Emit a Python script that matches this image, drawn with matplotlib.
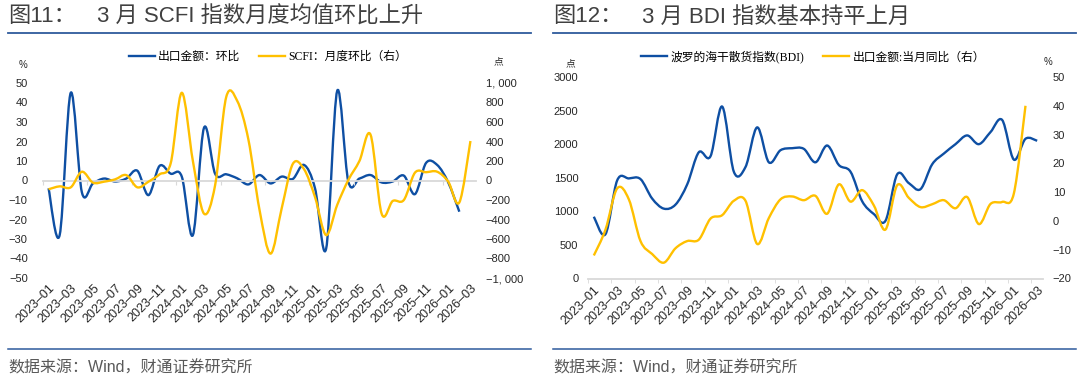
import matplotlib
matplotlib.use('Agg')
import matplotlib.pyplot as plt
import numpy as np
from matplotlib.path import Path
from matplotlib.patches import PathPatch
from matplotlib.lines import Line2D

plt.rcParams['font.family'] = ['Liberation Sans', 'Noto Sans CJK SC']
plt.rcParams['axes.unicode_minus'] = True

# Month categories 2023-01 .. 2026-03
months = [f'{y}-{m:02d}' for y in range(2023, 2027) for m in range(1, 13)][:39]

# Left chart: export value m/m (%) and SCFI monthly change (points, right axis)
export_mom = [-4, -28, 45, -6, -1.5, 1, -0.5, 1, 5, -7.5,
              7.5, 3.5, 2, -28, 27, 3.5, 3.2, 1.1, -2, 2.8,
              -1.5, 2, 0.8, 8, -4, -35, 46, -0.5, 1, 2.8,
              -1, -0.5, 2.5, -7, 9, 8, -1, -16]
scfi_mom = [-90, -60, -70, 90, -22, -12, 12, 55, -70, -12,
            63, 176, 900, 200, -340, -50, 855, 815, 420, -300,
            -750, -285, 170, 118, -170, -560, -250, 5, 200, 470,
            -340, -210, -200, 80, 85, 90, -12, -225, 405]

# Right chart: BDI (points) and export value y/y (%, right axis)
bdi = [920, 660, 1460, 1490, 1480, 1190, 1040, 1100, 1400, 1880,
       1820, 2560, 1590, 1660, 2250, 1730, 1910, 1940, 1930, 1730,
       1980, 1690, 1590, 1150, 960, 860, 1550, 1420, 1330, 1700,
       1860, 2000, 2130, 2000, 2180, 2360, 1770, 2080, 2050]
export_yoy = [-12, -3, 11.3, 7.5, -7, -11.5, -14.5, -9.5, -7, -6.5,
              0.8, 2, 7, 7, -8, 1, 7.5, 8.5, 7.2, 8.7,
              2.5, 12.7, 6.7, 10.7, 5.4, -3, 12.4, 8, 4.8, 5.8,
              7.2, 4.4, 8.3, -1.1, 5.9, 6.6, 9.5, 40]

BLUE = '#0E4FA3'
GOLD = '#FFC000'
GRAY_AX = '#D9D9D9'
TXT = '#262626'
W, H = 1080, 381


def fx(px):
    return px / W


def fy(py):
    return 1 - py / H


def smooth_path(xs, ys):
    # Excel-like smoothed line (Catmull-Rom as cubic Bezier)
    pts = np.column_stack([xs, ys]).astype(float)
    n = len(pts)
    verts = [pts[0]]
    codes = [Path.MOVETO]
    for i in range(n - 1):
        p0 = pts[i - 1] if i > 0 else pts[i]
        p1, p2 = pts[i], pts[i + 1]
        p3 = pts[i + 2] if i + 2 < n else pts[i + 1]
        verts += [p1 + (p2 - p0) / 6, p2 - (p3 - p1) / 6, p2]
        codes += [Path.CURVE4] * 3
    return Path(verts, codes)


def add_line(ax, values, color):
    x = np.arange(len(values))
    ax.add_patch(PathPatch(smooth_path(x, values), fill=False, edgecolor=color,
                           lw=1.7, joinstyle='round', capstyle='butt'))


def thousands(v):
    s = f'{abs(int(v)):,}'.replace(',', ', ')
    return ('\u2212' + s) if v < 0 else s


xlabels = [m.replace('-', '\u2013') for m in months[::2]]
XLAB_SIZE = 9

fig = plt.figure(figsize=(10.8, 3.81), dpi=100)

# ---------------- left chart ----------------
ax1 = fig.add_axes([fx(43), fy(278), fx(476 - 43), (278 - 83) / H])
ax1r = ax1.twinx()
ax1.set_xlim(-0.5, 38.5)
ax1.set_ylim(-50, 50)
ax1r.set_ylim(-1000, 1000)
add_line(ax1, export_mom, BLUE)
add_line(ax1r, scfi_mom, GOLD)

for a in (ax1, ax1r):
    for s in ('left', 'right', 'top'):
        a.spines[s].set_visible(False)
ax1r.spines['bottom'].set_visible(False)
ax1.spines['bottom'].set_position(('data', 0))
ax1.spines['bottom'].set_color(GRAY_AX)
ax1.spines['bottom'].set_linewidth(1.3)
ax1.set_xticks(np.arange(-0.5, 39, 4))
ax1.tick_params(axis='x', length=3, color=GRAY_AX, labelbottom=False)
sec = ax1.secondary_xaxis('bottom')
sec.set_xticks(range(0, 39, 2), xlabels)
sec.spines['bottom'].set_visible(False)
sec.tick_params(length=0, pad=3, labelsize=XLAB_SIZE, labelcolor=TXT)
for lab in sec.get_xticklabels():
    lab.set_rotation(45)
    lab.set_ha('right')
    lab.set_rotation_mode('anchor')

ax1.set_yticks(range(-50, 51, 10))
ax1.tick_params(axis='y', length=0, pad=11, labelsize=8, labelcolor=TXT)
ax1r.set_yticks(range(-1000, 1001, 200))
ax1r.set_yticklabels([thousands(v) for v in range(-1000, 1001, 200)])
ax1r.tick_params(axis='y', length=0, pad=7, labelsize=8, labelcolor=TXT)

# ---------------- right chart ----------------
ax2 = fig.add_axes([fx(588), fy(278.5), fx(1043 - 588), (278.5 - 77) / H])
ax2r = ax2.twinx()
ax2.set_xlim(-0.5, 38.5)
ax2.set_ylim(0, 3000)
ax2r.set_ylim(-20, 50)
add_line(ax2, bdi, BLUE)
add_line(ax2r, export_yoy, GOLD)

for a in (ax2, ax2r):
    for s in ('left', 'right', 'top'):
        a.spines[s].set_visible(False)
ax2r.spines['bottom'].set_visible(False)
ax2.spines['bottom'].set_color(GRAY_AX)
ax2.spines['bottom'].set_linewidth(1.3)
ax2.set_xticks(range(0, 39, 2), xlabels, rotation=45, ha='right',
               rotation_mode='anchor')
ax2.set_xticks(np.arange(-0.5, 39, 2), minor=True)
ax2.tick_params(axis='x', which='major', length=0, pad=4, labelsize=XLAB_SIZE,
                labelcolor=TXT)
ax2.tick_params(axis='x', which='minor', length=3, color=GRAY_AX)
ax2.set_yticks(range(0, 3001, 500))
ax2.tick_params(axis='y', length=0, pad=7, labelsize=8, labelcolor=TXT)
ax2r.set_yticks(range(-20, 51, 10))
ax2r.tick_params(axis='y', length=0, pad=7, labelsize=8, labelcolor=TXT)

# unit labels
fig.text(fx(23), fy(65), '%', fontsize=7, color=TXT, ha='center', va='center')
fig.text(fx(498), fy(61), '点', fontsize=7, color=TXT, ha='center', va='center')
fig.text(fx(570), fy(63), '点', fontsize=7, color=TXT, ha='center', va='center')
fig.text(fx(1048), fy(62), '%', fontsize=7, color=TXT, ha='center', va='center')

# legends
leg_font = {'family': ['Liberation Serif', 'Noto Sans CJK SC'], 'size': 8.5}
h_blue = Line2D([], [], color=BLUE, lw=1.7)
h_gold = Line2D([], [], color=GOLD, lw=1.7)
fig.legend([h_blue, h_gold], ['出口金额：环比', 'SCFI：月度环比（右）'],
           loc='center', bbox_to_anchor=(fx(268), fy(57)), ncol=2, frameon=False,
           prop=leg_font, handlelength=2.2, handletextpad=0.3, columnspacing=1.6)
fig.legend([h_blue, h_gold], ['波罗的海干散货指数(BDI)', '出口金额:当月同比（右）'],
           loc='center', bbox_to_anchor=(fx(813), fy(57)), ncol=2, frameon=False,
           prop=leg_font, handlelength=2.2, handletextpad=0.3, columnspacing=1.6)

# titles, rules, source notes
TITLE_C = '#404040'
RULE_C = '#2E5A9C'
for x0, num, title in [(8, '图11：', '3 月 SCFI 指数月度均值环比上升'),
                       (553, '图12：', '3 月 BDI 指数基本持平上月')]:
    fig.text(fx(x0), fy(17), num, fontsize=16, color=TITLE_C, va='center')
    fig.text(fx(x0 + 89), fy(17), title, fontsize=16, color=TITLE_C, va='center')
    fig.add_artist(Line2D([fx(x0), fx(x0 + 523)], [fy(33), fy(33)],
                          color=RULE_C, lw=1.3, transform=fig.transFigure))
    fig.add_artist(Line2D([fx(x0), fx(x0 + 523)], [fy(349), fy(349)],
                          color=RULE_C, lw=1.1, transform=fig.transFigure))
    fig.text(fx(x0), fy(368), '数据来源：Wind，财通证券研究所', fontsize=11.5,
             color='#595959', va='center')

fig.savefig('out.png', dpi=100)
